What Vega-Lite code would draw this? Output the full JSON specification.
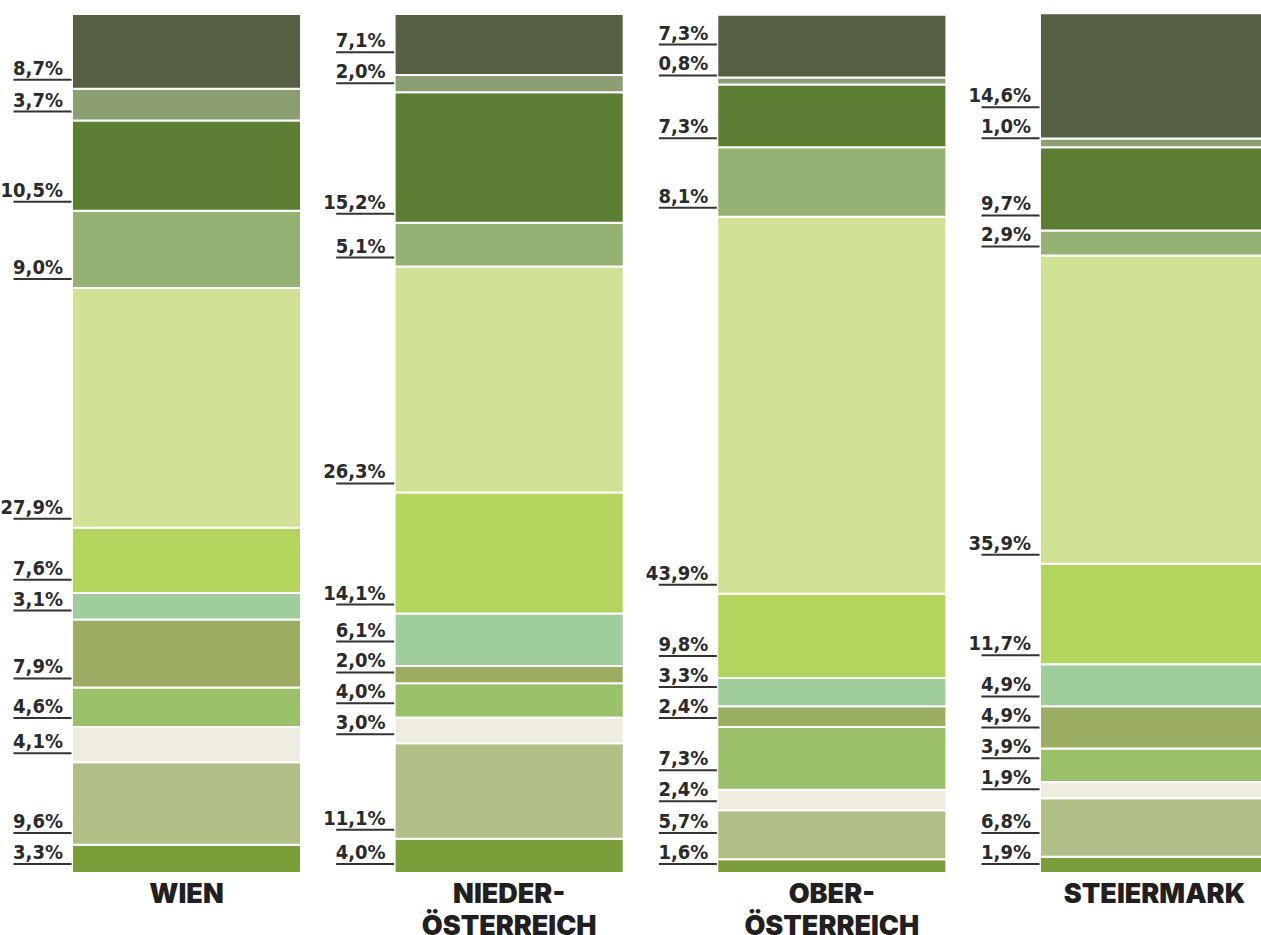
{
  "$schema": "https://vega.github.io/schema/vega-lite/v6.json",
  "width": 1261,
  "height": 859,
  "autosize": "none",
  "padding": {"left": 0, "top": 14, "right": 0, "bottom": 62},
  "background": "white",
  "config": {"view": {"stroke": null}},
  "data": {
    "values": [
      {"region": "WIEN", "rang": 1, "anteil": 3.3},
      {"region": "WIEN", "rang": 2, "anteil": 9.6},
      {"region": "WIEN", "rang": 3, "anteil": 4.1},
      {"region": "WIEN", "rang": 4, "anteil": 4.6},
      {"region": "WIEN", "rang": 5, "anteil": 7.9},
      {"region": "WIEN", "rang": 6, "anteil": 3.1},
      {"region": "WIEN", "rang": 7, "anteil": 7.6},
      {"region": "WIEN", "rang": 8, "anteil": 27.9},
      {"region": "WIEN", "rang": 9, "anteil": 9.0},
      {"region": "WIEN", "rang": 10, "anteil": 10.5},
      {"region": "WIEN", "rang": 11, "anteil": 3.7},
      {"region": "WIEN", "rang": 12, "anteil": 8.7},
      {"region": "NIEDER- ÖSTERREICH", "rang": 1, "anteil": 4.0},
      {"region": "NIEDER- ÖSTERREICH", "rang": 2, "anteil": 11.1},
      {"region": "NIEDER- ÖSTERREICH", "rang": 3, "anteil": 3.0},
      {"region": "NIEDER- ÖSTERREICH", "rang": 4, "anteil": 4.0},
      {"region": "NIEDER- ÖSTERREICH", "rang": 5, "anteil": 2.0},
      {"region": "NIEDER- ÖSTERREICH", "rang": 6, "anteil": 6.1},
      {"region": "NIEDER- ÖSTERREICH", "rang": 7, "anteil": 14.1},
      {"region": "NIEDER- ÖSTERREICH", "rang": 8, "anteil": 26.3},
      {"region": "NIEDER- ÖSTERREICH", "rang": 9, "anteil": 5.1},
      {"region": "NIEDER- ÖSTERREICH", "rang": 10, "anteil": 15.2},
      {"region": "NIEDER- ÖSTERREICH", "rang": 11, "anteil": 2.0},
      {"region": "NIEDER- ÖSTERREICH", "rang": 12, "anteil": 7.1},
      {"region": "OBER- ÖSTERREICH", "rang": 1, "anteil": 1.6},
      {"region": "OBER- ÖSTERREICH", "rang": 2, "anteil": 5.7},
      {"region": "OBER- ÖSTERREICH", "rang": 3, "anteil": 2.4},
      {"region": "OBER- ÖSTERREICH", "rang": 4, "anteil": 7.3},
      {"region": "OBER- ÖSTERREICH", "rang": 5, "anteil": 2.4},
      {"region": "OBER- ÖSTERREICH", "rang": 6, "anteil": 3.3},
      {"region": "OBER- ÖSTERREICH", "rang": 7, "anteil": 9.8},
      {"region": "OBER- ÖSTERREICH", "rang": 8, "anteil": 43.9},
      {"region": "OBER- ÖSTERREICH", "rang": 9, "anteil": 8.1},
      {"region": "OBER- ÖSTERREICH", "rang": 10, "anteil": 7.3},
      {"region": "OBER- ÖSTERREICH", "rang": 11, "anteil": 0.8},
      {"region": "OBER- ÖSTERREICH", "rang": 12, "anteil": 7.3},
      {"region": "STEIERMARK", "rang": 1, "anteil": 1.9},
      {"region": "STEIERMARK", "rang": 2, "anteil": 6.8},
      {"region": "STEIERMARK", "rang": 3, "anteil": 1.9},
      {"region": "STEIERMARK", "rang": 4, "anteil": 3.9},
      {"region": "STEIERMARK", "rang": 5, "anteil": 4.9},
      {"region": "STEIERMARK", "rang": 6, "anteil": 4.9},
      {"region": "STEIERMARK", "rang": 7, "anteil": 11.7},
      {"region": "STEIERMARK", "rang": 8, "anteil": 35.9},
      {"region": "STEIERMARK", "rang": 9, "anteil": 2.9},
      {"region": "STEIERMARK", "rang": 10, "anteil": 9.7},
      {"region": "STEIERMARK", "rang": 11, "anteil": 1.0},
      {"region": "STEIERMARK", "rang": 12, "anteil": 14.6}
    ]
  },
  "transform": [
    {"stack": "anteil", "groupby": ["region"], "sort": [{"field": "rang", "order": "ascending"}], "as": ["y0", "y1"]},
    {"calculate": "replace(format(datum.anteil, '.1f'), '.', ',') + '%'", "as": "label"},
    {"calculate": "datum.y0 - (datum.rang - 1) * 3.6", "as": "lt"},
    {"window": [{"op": "max", "field": "lt", "as": "ltmax"}], "groupby": ["region"], "sort": [{"field": "rang", "order": "ascending"}], "frame": [null, 0]},
    {"calculate": "datum.ltmax + (datum.rang - 1) * 3.6", "as": "lpos"}
  ],
  "encoding": {
    "x": {
      "field": "region",
      "type": "nominal",
      "bandPosition": 0,
      "scale": {
        "domain": ["WIEN", "NIEDER- ÖSTERREICH", "OBER- ÖSTERREICH", "STEIERMARK"],
        "range": [0, 1341],
        "paddingInner": 0.29,
        "paddingOuter": 0.223
      },
      "axis": {
        "title": null,
        "domain": false,
        "ticks": false,
        "labelAngle": 0,
        "labelExpr": "split(datum.label, ' ')",
        "labelFont": "Inter",
        "labelFontWeight": 900,
        "labelFontSize": 27,
        "labelColor": "#231f20",
        "labelLineHeight": 32,
        "labelPadding": 8,
        "labelBaseline": "top",
        "labelLimit": 400
      }
    }
  },
  "layer": [
    {
      "mark": {"type": "bar", "stroke": "white", "strokeWidth": 2},
      "encoding": {
        "x": {"field": "region", "type": "nominal"},
        "y": {"field": "y0", "type": "quantitative", "scale": {"domain": [0, 100], "nice": false, "zero": true}, "axis": null},
        "y2": {"field": "y1"},
        "color": {
          "field": "rang",
          "type": "ordinal",
          "scale": {
            "domain": [1, 2, 3, 4, 5, 6, 7, 8, 9, 10, 11, 12],
            "range": ["#7a9f3a", "#b0bf86", "#efede0", "#9bc06a", "#9aad62", "#9fcd9b", "#b3d55e", "#cfe295", "#95b174", "#5c7e33", "#8c9f72", "#555f41"]
          },
          "legend": null
        }
      }
    },
    {
      "mark": {"type": "tick", "orient": "horizontal", "size": 58, "thickness": 2, "opacity": 1, "color": "#333333", "xOffset": -144, "yOffset": -9},
      "encoding": {
        "y": {"field": "lpos", "type": "quantitative"}
      }
    },
    {
      "mark": {"type": "text", "align": "right", "baseline": "alphabetic", "xOffset": -9, "yOffset": -14, "font": "DejaVu Sans Condensed", "fontWeight": "bold", "fontSize": 20, "color": "#2b2b2b"},
      "encoding": {
        "y": {"field": "lpos", "type": "quantitative"},
        "text": {"field": "label"}
      }
    }
  ]
}
